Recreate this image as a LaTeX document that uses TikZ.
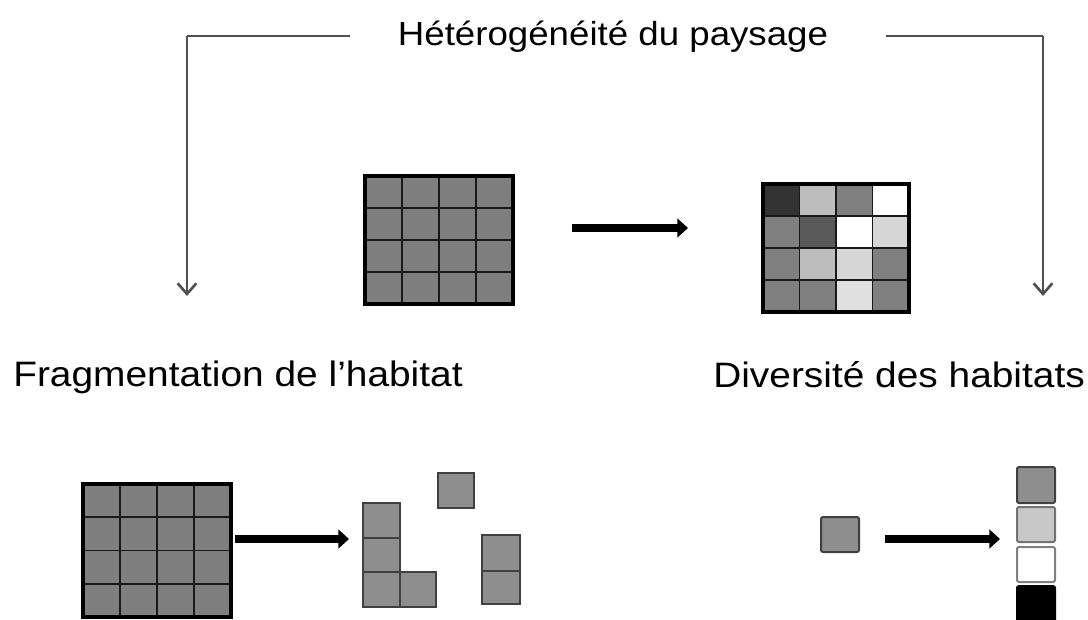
\documentclass[tikz,border=0pt]{standalone}
\usepackage{fontspec}
\setmainfont{Liberation Sans}
\newfontfamily\widesans[FakeStretch=1.1]{Liberation Sans}
\usetikzlibrary{arrows.meta}
\definecolor{cellgray}{HTML}{7F7F7F}
\definecolor{fraggray}{HTML}{8E8E8E}
\definecolor{bracketgray}{HTML}{505050}
\definecolor{cA}{HTML}{333333}
\definecolor{cB}{HTML}{BDBDBD}
\definecolor{cC}{HTML}{808080}
\definecolor{cD}{HTML}{FFFFFF}
\definecolor{cE}{HTML}{595959}
\definecolor{cF}{HTML}{D6D6D6}
\definecolor{cG}{HTML}{E0E0E0}
\definecolor{lightsq}{HTML}{C8C8C8}
\tikzset{
  cellline/.style={draw=black!90, line width=1.4pt},
  gridframe/.style={draw=black, line width=3pt, inner sep=0pt, fill=none},
  fragsq/.style={draw=black!75, line width=1.3pt, fill=fraggray},
  bracket/.style={draw=bracketgray, line width=1.1pt, -{Straight Barb[length=8pt,width=14pt,line width=2pt]}},
  bracketline/.style={draw=bracketgray, line width=1.1pt},
  bigarrow/.style={draw=black, line width=6pt, -{Triangle[length=8pt,width=14pt]}},
  label/.style={inner sep=0pt, font=\widesans\fontsize{26.5pt}{31pt}\selectfont},
  colsq/.style={draw=black!75, line width=1.5pt, rounded corners=1.5pt},
}
\begin{document}
\begin{tikzpicture}[x=0.75pt,y=-0.75pt]
\useasboundingbox (0,0) rectangle (1088,619);

% Title and brackets
\node[label, anchor=base, font=\widesans\fontsize{25pt}{30pt}\selectfont] (title) at (613,45) {Hétérogénéité du paysage};
\coordinate (bl0) at (350,36);
\coordinate (bl1) at (187,36);
\coordinate (bl2) at (187,296);
\coordinate (br0) at (886,36);
\coordinate (br1) at (1043,36);
\coordinate (br2) at (1043,296);
\draw[bracketline] (bl0) -- (bl1);
\draw[bracket] (bl1) -- (bl2);
\draw[bracketline] (br0) -- (br1);
\draw[bracket] (br1) -- (br2);

% Top-left grid (homogeneous)
\foreach \i in {0,...,3}
  \foreach \j in {0,...,3}
    \draw[cellline, fill=cellgray] ({365+\i*37},{176+\j*32}) rectangle ++(37,32);
\node[gridframe, minimum width=111pt, minimum height=96pt] (g1) at (439,240) {};

% Top arrow
\coordinate (a1s) at (572,228);
\coordinate (a1e) at (688,228);
\draw[bigarrow] (a1s) -- (a1e);

% Top-right grid (heterogeneous)
\foreach \row [count=\j from 0] in {{cA,cB,cC,cD},{cC,cE,cD,cF},{cC,cB,cF,cC},{cC,cC,cG,cC}}
  \foreach \col [count=\i from 0] in \row
    \draw[cellline, fill=\col] ({763+\i*36.5},{184+\j*32}) rectangle ++(36.5,32);
\node[gridframe, minimum width=109.5pt, minimum height=96pt] (g2) at (836,248) {};

% Labels
\node[label, anchor=base west] (fraglabel) at (13,386) {Fragmentation de l’habitat};
\node[label, anchor=base west] (divlabel) at (713,387) {Diversité des habitats};

% Bottom-left grid
\foreach \i in {0,...,3}
  \foreach \j in {0,...,3}
    \draw[cellline, fill=cellgray] ({83+\i*37},{484+\j*33.25}) rectangle ++(37,33.25);
\node[gridframe, minimum width=111pt, minimum height=99.75pt] (g3) at (157,550.5) {};

% Bottom-left arrow
\coordinate (a2s) at (235,539);
\coordinate (a2e) at (349,539);
\draw[bigarrow] (a2s) -- (a2e);

% Fragments
\draw[fragsq] (363,503) rectangle (400,538);
\draw[fragsq] (363,538) rectangle (400,572);
\draw[fragsq] (363,572) rectangle (400,607);
\draw[fragsq] (400,572) rectangle (436,607);
\draw[fragsq] (438,473) rectangle (474,508);
\draw[fragsq] (482,535) rectangle (520,571);
\draw[fragsq] (482,571) rectangle (520,604);

% Bottom-right
\draw[colsq, fill=fraggray] (821,517) rectangle (859,552);
\coordinate (a3s) at (885,539);
\coordinate (a3e) at (1000,539);
\draw[bigarrow] (a3s) -- (a3e);
\draw[colsq, fill=fraggray] (1017,467) rectangle (1055,503);
\draw[colsq, fill=lightsq, draw=black!55] (1017,507) rectangle (1055,542);
\draw[colsq, fill=white, draw=black!50] (1017,547) rectangle (1055,582);
\draw[colsq, fill=black, draw=black] (1017,586) rectangle (1055,625);
\end{tikzpicture}
\end{document}
